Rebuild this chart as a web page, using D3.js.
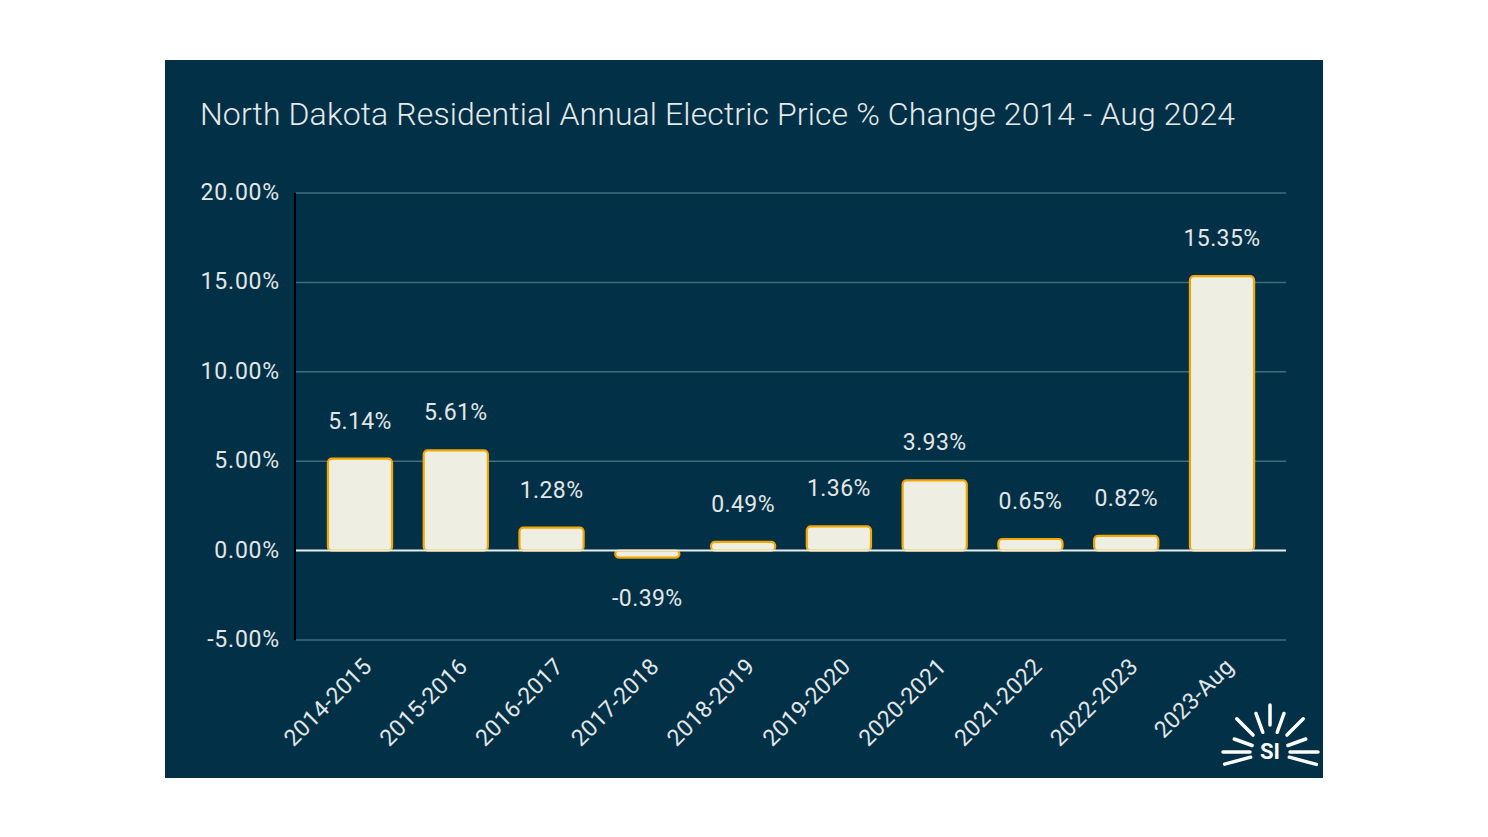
<!DOCTYPE html>
<html>
<head>
<meta charset="utf-8">
<script src="https://cdn.jsdelivr.net/npm/d3@7"></script>
<style>
  html, body { margin: 0; padding: 0; background: #ffffff; }
  svg { display: block; font-family: Roboto, "Noto Sans", sans-serif; }
</style>
</head>
<body>
<svg id="chart" width="1488" height="837"></svg>
<script>
const categories = ["2014-2015","2015-2016","2016-2017","2017-2018","2018-2019","2019-2020","2020-2021","2021-2022","2022-2023","2023-Aug"];
const values = [5.14, 5.61, 1.28, -0.39, 0.49, 1.36, 3.93, 0.65, 0.82, 15.35];
const yTicks = [-5, 0, 5, 10, 15, 20];
const title = "North Dakota Residential Annual Electric Price % Change 2014 - Aug 2024";

const svg = d3.select("#chart");
const panel = { x: 165, y: 60, w: 1158, h: 718 };
const plot = { left: 296, right: 1286, top: 193, bottom: 640 };
const txt = "#e2e6e6";

svg.append("rect").attr("x", panel.x).attr("y", panel.y).attr("width", panel.w).attr("height", panel.h).attr("fill", "#023047");

svg.append("text").attr("x", 200).attr("y", 125).attr("fill", "#e6eaea")
  .attr("font-size", 32).attr("font-weight", 300).attr("textLength", 1035).attr("lengthAdjust", "spacing").text(title);

const y = d3.scaleLinear().domain([-5, 20]).range([plot.bottom, plot.top]);
const x = d3.scaleBand().domain(categories).range([plot.left, plot.right]).paddingInner(0.33).paddingOuter(0.333);

// gridlines
svg.append("g").selectAll("line").data(yTicks.filter(t => t !== 0)).join("line")
  .attr("x1", plot.left).attr("x2", plot.right)
  .attr("y1", d => y(d)).attr("y2", d => y(d))
  .attr("stroke", "#3f6d80").attr("stroke-width", 1.5);

// y tick labels
svg.append("g").selectAll("text").data(yTicks).join("text")
  .attr("x", 280).attr("y", d => y(d) + 7).attr("text-anchor", "end")
  .attr("fill", txt).attr("font-size", 23).attr("letter-spacing", 0.8)
  .text(d => d.toFixed(2) + "%");

// bars
svg.append("g").selectAll("rect").data(values).join("rect")
  .attr("x", (d, i) => x(categories[i]))
  .attr("width", x.bandwidth())
  .attr("y", d => y(Math.max(d, 0)))
  .attr("height", d => Math.abs(y(d) - y(0)))
  .attr("rx", 4)
  .attr("fill", "#eeeee2").attr("stroke", "#f5a600").attr("stroke-width", 2.2);

// zero line
svg.append("line").attr("x1", plot.left).attr("x2", plot.right)
  .attr("y1", y(0)).attr("y2", y(0)).attr("stroke", "#e8eeee").attr("stroke-width", 2);

// y axis line
svg.append("line").attr("x1", plot.left - 1).attr("x2", plot.left - 1)
  .attr("y1", plot.top).attr("y2", plot.bottom).attr("stroke", "#000000").attr("stroke-width", 2);

// value labels
svg.append("g").selectAll("text").data(values).join("text")
  .attr("x", (d, i) => x(categories[i]) + x.bandwidth() / 2)
  .attr("y", d => d >= 0 ? y(d) - 30 : y(d) + 48)
  .attr("text-anchor", "middle").attr("fill", txt).attr("font-size", 23).attr("letter-spacing", 0.4)
  .text(d => d.toFixed(2) + "%");

// x labels
svg.append("g").selectAll("text").data(categories).join("text")
  .attr("transform", d => `translate(${x(d) + x.bandwidth() / 2 + 13},${668}) rotate(-45)`)
  .attr("text-anchor", "end").attr("fill", txt).attr("font-size", 23).attr("letter-spacing", 0.3)
  .text(d => d);

// logo
const logo = svg.append("g").attr("transform", "translate(1270,752)");
const rays = [
  { a: 180, r0: 20, r1: 47 },
  { a: 195, r0: 20, r1: 47 },
  { a: 160, r0: 19, r1: 38 },
  { a: 135, r0: 24, r1: 47 },
  { a: 110, r0: 21, r1: 41 },
  { a: 90,  r0: 27, r1: 47 },
  { a: 70,  r0: 21, r1: 41 },
  { a: 45,  r0: 24, r1: 47 },
  { a: 20,  r0: 19, r1: 38 },
  { a: 0,   r0: 20, r1: 48 },
  { a: -15, r0: 20, r1: 48 }
];
logo.selectAll("line").data(rays).join("line")
  .attr("x1", d => d.r0 * Math.cos(d.a * Math.PI / 180))
  .attr("y1", d => -d.r0 * Math.sin(d.a * Math.PI / 180))
  .attr("x2", d => d.r1 * Math.cos(d.a * Math.PI / 180))
  .attr("y2", d => -d.r1 * Math.sin(d.a * Math.PI / 180))
  .attr("stroke", "#ffffff").attr("stroke-width", 3.5).attr("stroke-linecap", "round");
logo.append("text").attr("x", 0).attr("y", 7).attr("text-anchor", "middle")
  .attr("fill", "#ffffff").attr("font-size", 22).attr("font-weight", 700).text("SI");
</script>
</body>
</html>
